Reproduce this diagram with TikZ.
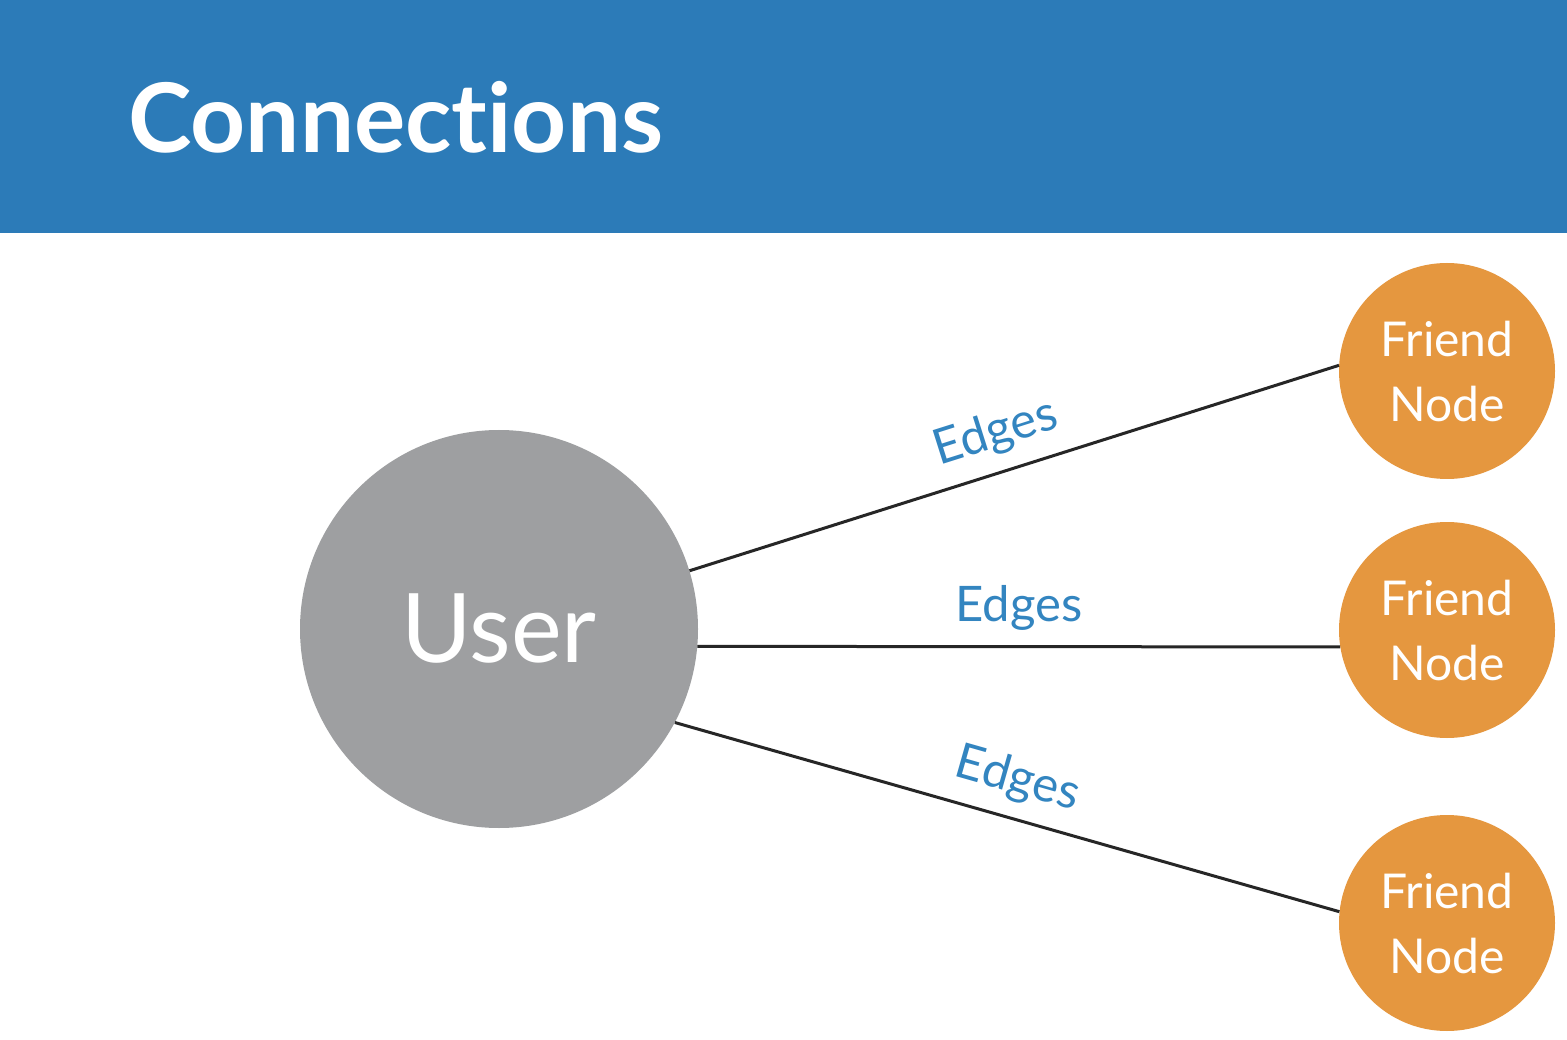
\documentclass[tikz,border=0pt]{standalone}
\usepackage{fontspec}
\setmainfont{Lato}[Ligatures=NoCommon]
\definecolor{headerblue}{HTML}{2C7BB8}
\definecolor{friendorange}{HTML}{E5973F}
\definecolor{usergray}{HTML}{9E9FA1}
\definecolor{labelblue}{HTML}{3385C0}
\definecolor{linedark}{HTML}{262626}
\begin{document}
\begin{tikzpicture}[x=1pt,y=-1pt,
  header/.style={rectangle, fill=headerblue, minimum width=1567pt, minimum height=233pt, inner sep=0pt, outer sep=0pt},
  titletext/.style={text=white, font=\bfseries\fontsize{96}{100}\selectfont, inner sep=0pt, anchor=base west},
  friend/.style={circle, fill=friendorange, minimum size=216pt, inner sep=0pt, text=white, align=center, font=\fontsize{48}{65}\selectfont},
  usernode/.style={circle, fill=usergray, minimum size=398pt, inner sep=0pt, text=white, font=\fontsize{96}{100}\selectfont},
  edgeline/.style={draw=linedark, line width=3pt},
  edgelabel/.style={text=labelblue, font=\fontsize{49}{52}\selectfont, inner sep=0pt, sloped, anchor=base, yshift=25pt}]
\useasboundingbox (0,0) rectangle (1567,1040);
\fill[white] (0,0) rectangle (1567,1040);
\node[header] (head) at (783.5,116.5) {};
\node[titletext] (title) at (128,153) {Connections};
\node[usernode] (user) at (499,629) {User};
\node[friend] (f1) at (1447,371) {Friend\\Node};
\node[friend] (f2) at (1447,630) {Friend\\Node};
\node[friend] (f3) at (1447,923) {Friend\\Node};
\draw[edgeline] (user.17.8) -- node[edgelabel, pos=0.49] (l1) {Edges} (f1.177.9);
\draw[edgeline] (user.-5.5) -- node[edgelabel, pos=0.5] (l2) {Edges} (f2.189.6);
\draw[edgeline] (user.-28.1) -- node[edgelabel, pos=0.5] (l3) {Edges} (f3.174.2);
\end{tikzpicture}
\end{document}
